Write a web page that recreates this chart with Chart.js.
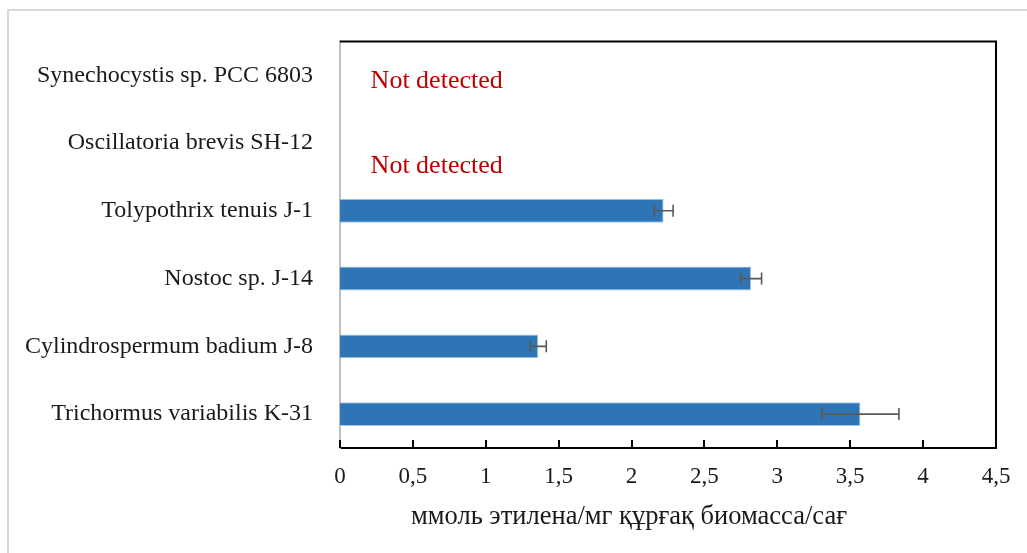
<!DOCTYPE html>
<html>
<head>
<meta charset="utf-8">
<script src="https://cdn.jsdelivr.net/npm/chart.js@4/dist/chart.umd.min.js"></script>
<style>
  html, body { margin: 0; padding: 0; background: #ffffff; }
  #wrap { position: relative; width: 1027px; height: 553px; }
  canvas { display: block; }
</style>
</head>
<body>
<div id="wrap"><canvas id="c" width="1027" height="553"></canvas></div>
<script>
// Strains (top to bottom) and nitrogenase activity
const strains = [
  'Synechocystis sp. PCC 6803',
  'Oscillatoria brevis SH-12',
  'Tolypothrix tenuis J-1',
  'Nostoc sp. J-14',
  'Cylindrospermum badium J-8',
  'Trichormus variabilis K-31'
];
const activity = [0, 0, 2.22, 2.82, 1.36, 3.57];
const errors = [0, 0, 0.065, 0.072, 0.055, 0.264];
const xTicks = [0, 0.5, 1, 1.5, 2, 2.5, 3, 3.5, 4, 4.5];
const notDetectedRows = [0, 1.25];
const notDetectedText = 'Not detected';
const axisTitle = 'ммоль этилена/мг құрғақ биомасса/сағ';

const FONT = '"Liberation Serif", "Times New Roman", serif';
const TEXT = '#1a1a1a';

// Frame lines, inward ticks, error bars, axis title and "Not detected" notes
const decorations = {
  id: 'decorations',
  beforeDraw(chart) {
    const ctx = chart.ctx;
    ctx.save();
    ctx.strokeStyle = '#d9d9d9';
    ctx.lineWidth = 2;
    ctx.beginPath();
    ctx.moveTo(8, chart.height);
    ctx.lineTo(8, 10);
    ctx.lineTo(chart.width, 10);
    ctx.stroke();
    ctx.restore();
  },
  afterDatasetsDraw(chart) {
    const ctx = chart.ctx;
    const area = chart.chartArea;
    const xs = chart.scales.x;
    const ys = chart.scales.y;
    ctx.save();

    // top and right border of the plot
    ctx.strokeStyle = '#000000';
    ctx.lineWidth = 2;
    ctx.beginPath();
    ctx.moveTo(area.left, area.top);
    ctx.lineTo(area.right, area.top);
    ctx.lineTo(area.right, area.bottom);
    ctx.stroke();

    // inward tick marks on the value axis
    ctx.lineWidth = 2;
    ctx.beginPath();
    xTicks.forEach(v => {
      const px = Math.round(xs.getPixelForValue(v));
      ctx.moveTo(px, area.bottom);
      ctx.lineTo(px, area.bottom - 8);
    });
    ctx.stroke();

    // error bars
    ctx.strokeStyle = '#595959';
    ctx.lineWidth = 1.6;
    activity.forEach((v, i) => {
      const e = errors[i];
      if (!e) return;
      const y = ys.getPixelForValue(i);
      const x1 = xs.getPixelForValue(v - e);
      const x2 = xs.getPixelForValue(v + e);
      ctx.beginPath();
      ctx.moveTo(x1, y); ctx.lineTo(x2, y);
      ctx.moveTo(x1, y - 6); ctx.lineTo(x1, y + 6);
      ctx.moveTo(x2, y - 6); ctx.lineTo(x2, y + 6);
      ctx.stroke();
    });

    // notes for strains without activity
    ctx.fillStyle = '#c00000';
    ctx.font = '26px ' + FONT;
    ctx.textAlign = 'left';
    ctx.textBaseline = 'middle';
    notDetectedRows.forEach(r => {
      ctx.fillText(notDetectedText, xs.getPixelForValue(0.21), ys.getPixelForValue(r) + 6);
    });

    // value axis title
    ctx.fillStyle = TEXT;
    ctx.font = '26.5px ' + FONT;
    ctx.textAlign = 'center';
    ctx.fillText(axisTitle, 629, 517);
    ctx.restore();
  }
};

new Chart(document.getElementById('c'), {
  type: 'bar',
  data: {
    labels: strains,
    datasets: [{
      data: activity,
      backgroundColor: '#2e75b6',
      borderColor: '#a9c8e8',
      borderWidth: 1,
      borderSkipped: 'start',
      categoryPercentage: 1,
      barPercentage: 0.353
    }]
  },
  options: {
    indexAxis: 'y',
    responsive: false,
    animation: false,
    layout: { padding: { top: 39, right: 31, left: 0, bottom: 0 } },
    plugins: {
      legend: { display: false },
      tooltip: { enabled: false }
    },
    scales: {
      x: {
        min: 0,
        max: 4.5,
        afterBuildTicks(scale) { scale.ticks = xTicks.map(v => ({ value: v })); },
        afterFit(scale) { scale.height = 105; },
        grid: { display: false, drawTicks: false },
        border: { display: true, color: '#000000', width: 2 },
        ticks: {
          color: TEXT,
          font: { family: FONT, size: 23 },
          padding: 15,
          maxRotation: 0,
          autoSkip: false,
          callback: v => String(v).replace('.', ',')
        }
      },
      y: {
        afterFit(scale) { scale.width = 340; },
        grid: { display: false, drawTicks: false },
        border: { display: true, color: '#bfbfbf', width: 2 },
        ticks: {
          color: TEXT,
          font: { family: FONT, size: 24 },
          padding: 27,
          autoSkip: false
        }
      }
    }
  },
  plugins: [decorations]
});
</script>
</body>
</html>
